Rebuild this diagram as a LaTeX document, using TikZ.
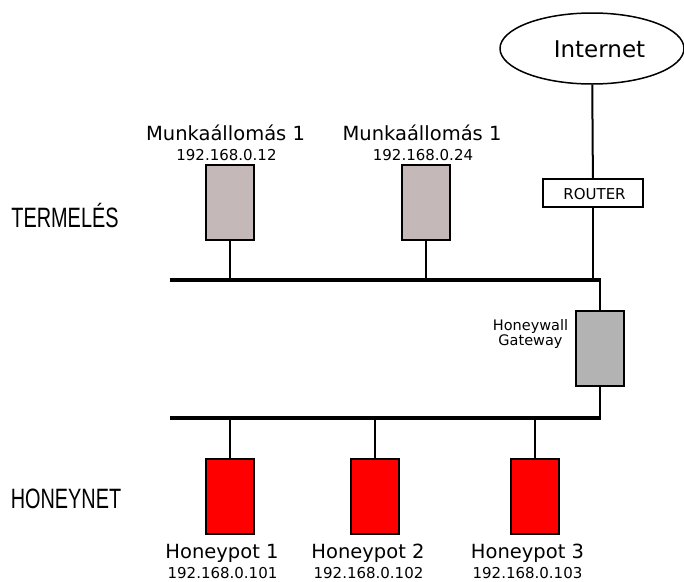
\documentclass[tikz,border=0pt]{standalone}
\usepackage{fontspec}
\setmainfont{DejaVu Sans}
\newfontfamily\narrowfont{Liberation Sans}
\usetikzlibrary{shapes.geometric}

\definecolor{wsgray}{RGB}{196,184,184}
\definecolor{gwgray}{RGB}{179,179,179}

\newcommand{\bigtxt}{\fontsize{19.5}{22}\selectfont}
\newcommand{\iptxt}{\fontsize{15}{17}\selectfont}
\newcommand{\gwtxt}{\fontsize{14.5}{18}\selectfont}
\newcommand{\zonetxt}[1]{\scalebox{0.71}[1]{\narrowfont\fontsize{28}{30}\selectfont #1}}

\tikzset{
	box/.style={draw=black, line width=2pt, minimum width=48pt, minimum height=75pt, inner sep=0pt},
	ws/.style={box, fill=wsgray},
	hp/.style={box, fill=red},
	gw/.style={box, fill=gwgray},
	lbl/.style={anchor=base, inner sep=0pt},
	bus/.style={draw=black, line width=4pt}
}

\begin{document}
\begin{tikzpicture}[x=1pt, y=-1pt]
\useasboundingbox (0,0) rectangle (684,581);

\begin{scope}
	\node[draw, ellipse, line width=1.5pt, minimum width=184pt, minimum height=71pt, inner sep=0pt] (net) at (592,48.5) {};
	\node[lbl] (nettxt) at (599.5,57) {\fontsize{23}{26}\selectfont Internet};
	\node[draw, line width=1.5pt, minimum width=100pt, minimum height=28pt, inner sep=0pt] (router) at (593,193) {};
	\node[lbl] (routertxt) at (594.5,199) {\fontsize{15}{17}\selectfont ROUTER};

	\node[ws] (ws1) at (230,202) {};
	\node[ws] (ws2) at (426,202) {};
	\node[lbl] (wsname1) at (225.5,140) {\bigtxt Munkaállomás 1};
	\node[lbl] (wsip1) at (226.5,160) {\iptxt 192.168.0.12};
	\node[lbl] (wsname2) at (422,140) {\bigtxt Munkaállomás 1};
	\node[lbl] (wsip2) at (423,160) {\iptxt 192.168.0.24};

	\node[gw] (gw) at (600,348.5) {};
	\node[lbl, align=center] (gwtxt) at (530.5,345) {\gwtxt Honeywall\\ \gwtxt Gateway};

	\node[hp] (hp1) at (230,496.5) {};
	\node[hp] (hp2) at (375,496.5) {};
	\node[hp] (hp3) at (535,496.5) {};
	\node[lbl] (hpname1) at (222,558.5) {\bigtxt Honeypot 1};
	\node[lbl] (hpip1) at (222.5,578) {\iptxt 192.168.0.101};
	\node[lbl] (hpname2) at (368,558.5) {\bigtxt Honeypot 2};
	\node[lbl] (hpip2) at (368.5,578) {\iptxt 192.168.0.102};
	\node[lbl] (hpname3) at (527.5,558.5) {\bigtxt Honeypot 3};
	\node[lbl] (hpip3) at (527.5,578) {\iptxt 192.168.0.103};

	\node[lbl] (termeles) at (65,227) {\zonetxt{TERMELÉS}};
	\node[lbl] (honeynet) at (66,508) {\zonetxt{HONEYNET}};

	% bus ends and taps
	\coordinate (topW) at (170,280);
	\coordinate (topE) at (600,280);
	\coordinate (botW) at (170,418);
	\coordinate (botE) at (600,418);
\end{scope}

\begin{scope}[every edge/.style={draw=black, line width=2pt}]

	\path (net) edge (router);
	\path (router) edge (router |- topE);
	\path (topE) edge (gw);
	\path (gw) edge (botE);

	\path (ws1) edge (ws1 |- topW);
	\path (ws2) edge (ws2 |- topW);

	\path (hp1) edge (hp1 |- botW);
	\path (hp2) edge (hp2 |- botW);
	\path (hp3) edge (hp3 |- botW);

	\path[bus] (topW) -- ([xshift=1pt]topE);
	\path[bus] (botW) -- ([xshift=1pt]botE);

\end{scope}

\end{tikzpicture}
\end{document}
